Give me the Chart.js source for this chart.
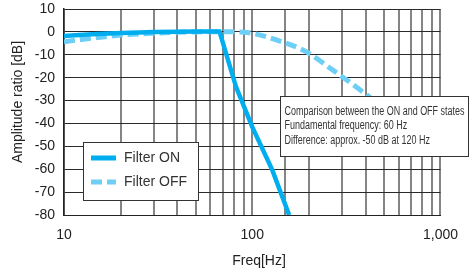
<!DOCTYPE html>
<html>
<head>
<meta charset="utf-8">
<script src="https://cdn.jsdelivr.net/npm/chart.js@4.4.0/dist/chart.umd.min.js"></script>
<style>
  html, body { margin: 0; padding: 0; background: #fff; }
  #wrap { width: 470px; height: 271px; }
</style>
</head>
<body>
<div id="wrap"><canvas id="freqChart"></canvas></div>
<script>
// values
const freqOn = [10, 12, 15, 20, 25, 30, 40, 50, 67, 82, 100, 128, 157];
const dbOn   = [-1.8, -1.4, -0.9, -0.5, -0.25, -0.1, 0.1, 0.2, 0.2, -24, -41.5, -60.5, -80];
const freqOff = [10, 15, 20, 30, 40, 50, 70, 96, 133, 192, 266, 384, 550, 750, 1000];
const dbOff   = [-4.3, -2.5, -1.4, -0.6, -0.2, 0, 0.1, -0.4, -3.4, -8.5, -16.5, -26, -36, -44, -51];
const xLabelValues = [10, 100, 1000];
const seriesNames = ['Filter ON', 'Filter OFF'];
const noteLines = [
  'Comparison between the ON and OFF states',
  'Fundamental frequency: 60 Hz',
  'Difference: approx. -50 dB at 120 Hz'
];

const colorOn = '#00aeef';
const colorOff = '#6dcff6';
const FONT = '"Liberation Sans", Arial, sans-serif';

Chart.defaults.font.family = FONT;
Chart.defaults.font.size = 14;
Chart.defaults.color = '#222';

const toPoints = (xs, ys) => xs.map((x, i) => ({ x: x, y: ys[i] }));

// legend + note box + axis titles, drawn on top of the lines
const overlay = {
  id: 'overlay',
  afterDatasetsDraw(chart) {
    const ctx = chart.ctx;
    ctx.save();

    // legend box inside the plot
    ctx.fillStyle = '#fff';
    ctx.strokeStyle = '#333';
    ctx.lineWidth = 1;
    ctx.fillRect(83.5, 142.5, 115, 58);
    ctx.strokeRect(83.5, 142.5, 115, 58);
    chart.data.datasets.forEach((ds, i) => {
      const y = 158 + i * 24;
      ctx.beginPath();
      ctx.strokeStyle = ds.borderColor;
      ctx.lineWidth = 5;
      ctx.setLineDash(ds.borderDash || []);
      ctx.moveTo(91, y);
      ctx.lineTo(116, y);
      ctx.stroke();
      ctx.setLineDash([]);
      ctx.fillStyle = '#333';
      ctx.font = '14px ' + FONT;
      ctx.textAlign = 'left';
      ctx.textBaseline = 'middle';
      ctx.fillText(ds.label, 124, y + 0.5);
    });

    // note box
    ctx.fillStyle = '#fff';
    ctx.strokeStyle = '#333';
    ctx.lineWidth = 1;
    ctx.fillRect(280.5, 96.5, 188, 60);
    ctx.strokeRect(280.5, 96.5, 188, 60);
    ctx.font = '12px ' + FONT;
    const sx = Math.min(1, 180 / ctx.measureText(noteLines[0]).width);
    ctx.fillStyle = '#333';
    ctx.textAlign = 'left';
    ctx.textBaseline = 'alphabetic';
    noteLines.forEach((t, i) => {
      ctx.save();
      ctx.translate(284.5, 114.5 + i * 14.6);
      ctx.scale(sx, 1);
      ctx.fillText(t, 0, 0);
      ctx.restore();
    });

    // axis titles
    ctx.fillStyle = '#222';
    ctx.font = '14px ' + FONT;
    ctx.textAlign = 'center';
    ctx.textBaseline = 'middle';
    ctx.fillText('Freq[Hz]', 259, 261);
    ctx.translate(18, 102);
    ctx.rotate(-Math.PI / 2);
    ctx.fillText('Amplitude ratio [dB]', 0, 0);
    ctx.restore();
  }
};

const ctx = document.getElementById('freqChart').getContext('2d');
const freqChart = new Chart(ctx, {
  type: 'line',
  data: {
    datasets: [{
      label: seriesNames[0],
      data: toPoints(freqOn, dbOn),
      borderColor: colorOn,
      borderWidth: 4.5,
      pointRadius: 0,
      tension: 0
    }, {
      label: seriesNames[1],
      data: toPoints(freqOff, dbOff),
      borderColor: colorOff,
      borderWidth: 5,
      borderDash: [11, 5],
      pointRadius: 0,
      cubicInterpolationMode: 'monotone'
    }]
  },
  options: {
    responsive: true,
    maintainAspectRatio: false,
    animation: false,
    layout: { padding: { top: 9, right: 28, left: 0, bottom: 0 } },
    scales: {
      x: {
        type: 'logarithmic',
        min: 10,
        max: 1000,
        afterFit: s => { s.height = 56; },
        ticks: {
          autoSkip: false,
          maxRotation: 0,
          padding: 12,
          callback: v => xLabelValues.includes(v) ? v.toLocaleString('en-US') : ''
        },
        grid: { color: '#858585', lineWidth: 2, drawTicks: false },
        border: { color: '#222', width: 1 }
      },
      y: {
        min: -80,
        max: 10,
        afterFit: s => { s.width = 64; s.paddingTop = 0; s.paddingBottom = 0; },
        ticks: { stepSize: 10, padding: 9 },
        grid: { color: '#2a2a2a', lineWidth: 1, drawTicks: false },
        border: { color: '#222', width: 1.5 }
      }
    },
    plugins: {
      legend: { display: false },
      tooltip: { enabled: false }
    }
  },
  plugins: [overlay]
});
</script>
</body>
</html>
